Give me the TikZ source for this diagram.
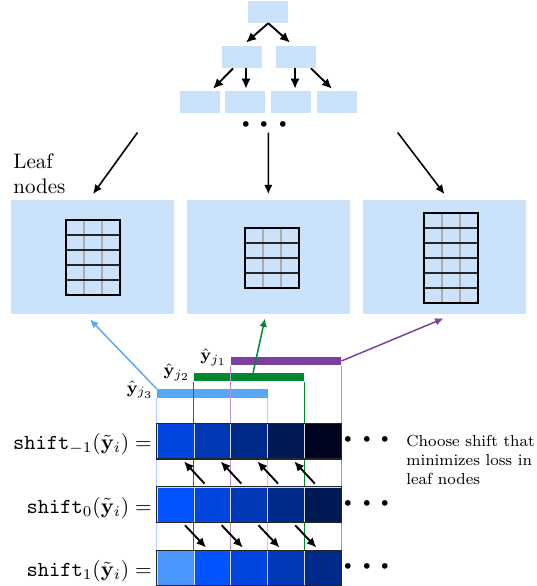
\documentclass[tikz,border=0pt]{standalone}
\usepackage{graphicx}
\usepackage{amsmath,amssymb}
\usetikzlibrary{arrows.meta,calc}
\newdimen\pxu \pxu=0.47619pt
\definecolor{leafblue}{RGB}{202,227,250}
\definecolor{shA}{HTML}{4A96FF}
\definecolor{shB}{HTML}{0055FF}
\definecolor{shC}{HTML}{0046DF}
\definecolor{shD}{HTML}{0038B5}
\definecolor{shE}{HTML}{002A8A}
\definecolor{shF}{HTML}{001A56}
\definecolor{shG}{HTML}{00051F}
\definecolor{jblue}{HTML}{57A9F8}
\definecolor{jgreen}{HTML}{00882E}
\definecolor{jpurple}{HTML}{7B3F9D}
\newcommand{\shiftlabel}[1]{\scalebox{1.02}{$\mathtt{shift}_{#1}(\tilde{\mathbf{y}}_i) =$}}
\tikzset{
  treebox/.style={fill=leafblue, inner sep=0, minimum width=40\pxu, minimum height=22\pxu},
  leafbox/.style={fill=leafblue, inner sep=0, minimum width=163\pxu, minimum height=114\pxu},
  tarrow/.style={line width=0.9pt, -{Latex[length=4.8pt,width=4.4pt]}},
  barrow/.style={line width=0.75pt, -{Latex[length=4.4pt,width=4pt]}},
  sarrow/.style={line width=0.9pt, -{Latex[length=4.6pt,width=4.2pt]}},
  carrow/.style={line width=0.7pt, -{Latex[length=4pt,width=3.6pt]}},
  gridv/.style={draw=gray!65, line width=0.5pt},
  gridh/.style={draw=black!85, line width=0.5pt},
  gridb/.style={draw=black, line width=0.7pt},
  cell/.style={inner sep=0, minimum width=36.75\pxu, minimum height=35\pxu, draw=gray!30, line width=0.45pt},
  rowframe/.style={draw=black!85, line width=0.5pt},
  jbar/.style={inner sep=0, minimum width=110.25\pxu, minimum height=8.3\pxu},
  jlbl/.style={font=\footnotesize, inner sep=0, anchor=east},
  vline/.style={line width=0.5pt},
  shiftlbl/.style={inner sep=0, anchor=base east},
  dotsnode/.style={inner sep=0, font=\LARGE\boldmath},
}
\begin{document}
\begin{tikzpicture}[x=0.47619pt, y=-0.47619pt]
\useasboundingbox (0,0) rectangle (537,586);
% tree
\node[treebox] (root) at (268.3,11.8) {};
\node[treebox] (m1) at (242,57) {};
\node[treebox] (m2) at (296,57) {};
\node[treebox] (b1) at (200,101.7) {};
\node[treebox] (b2) at (245,101.7) {};
\node[treebox] (b3) at (291,101.7) {};
\node[treebox] (b4) at (337,101.7) {};
\draw[tarrow] (root.south) -- ($(m1.north)+(4,-3)$);
\draw[tarrow] (root.south) -- ($(m2.north)+(-6,-3)$);
\draw[tarrow] ($(m1.south)+(-9,0)$) -- ($(b1.north)+(13,-1.5)$);
\draw[tarrow] ($(m1.south)+(4,0)$) -- ($(b2.north)+(1,-1.5)$);
\draw[tarrow] ($(m2.south)+(-1,0)$) -- ($(b3.north)+(4,-1.5)$);
\draw[tarrow] ($(m2.south)+(15,0)$) -- ($(b4.north)+(-5,-1.5)$);
\node[dotsnode] (tdots) at (268.3,125) {$\cdots$};
% leaf boxes
\node[leafbox] (leafA) at (92.5,257) {};
\node[leafbox] (leafB) at (268.5,257) {};
\node[leafbox] (leafC) at (444.5,257) {};
\node[anchor=north west, align=left, inner sep=0] (leaftxt) at (13,153.4) {Leaf\\nodes};
\coordinate (sA) at (137.5,132.5);
\coordinate (sB) at (268.3,132.5);
\coordinate (sC) at (397.7,132.5);
\draw[barrow] (sA) -- ($(leafA.north)+(0.5,-5.5)$);
\draw[barrow] (sB) -- ($(leafB.north)+(-0.2,-5.5)$);
\draw[barrow] (sC) -- ($(leafC.north)+(0,-5.5)$);
% grids
\foreach \k in {1,2} \draw[gridv] (66+18*\k,220) -- (66+18*\k,295);
\foreach \k in {1,...,4} \draw[gridh] (66,220+15*\k) -- (120,220+15*\k);
\draw[gridb] (66,220) rectangle (120,295);
\foreach \k in {1,2} \draw[gridv] (245+18*\k,228) -- (245+18*\k,288);
\foreach \k in {1,2,3} \draw[gridh] (245,228+15*\k) -- (299,228+15*\k);
\draw[gridb] (245,228) rectangle (299,288);
\foreach \k in {1,2} \draw[gridv] (424+18*\k,213) -- (424+18*\k,303);
\foreach \k in {1,...,5} \draw[gridh] (424,213+15*\k) -- (478,213+15*\k);
\draw[gridb] (424,213) rectangle (478,303);
% bracket bars
\node[jbar, fill=jpurple] (bj1) at (285.9,361) {};
\node[jbar, fill=jgreen] (bj2) at (249.1,377.3) {};
\node[jbar, fill=jblue] (bj3) at (212.4,393.6) {};
\node[jlbl] (lj1) at ($(bj1.west)+(-3,-4)$) {$\hat{\mathbf{y}}_{j_1}$};
\node[jlbl] (lj2) at ($(bj2.west)+(-3,-5)$) {$\hat{\mathbf{y}}_{j_2}$};
\node[jlbl] (lj3) at ($(bj3.west)+(-3,-4)$) {$\hat{\mathbf{y}}_{j_3}$};
% vertical guide lines
\coordinate (rowtop) at (0,550.5);
\draw[vline, draw=jblue!50!white] (bj3.south west) -- (bj3.south west |- rowtop);
\draw[vline, draw=jblue!50!white] (bj3.south east) -- (bj3.south east |- rowtop);
\draw[vline, draw=jgreen] (bj2.south west) -- (bj2.south west |- rowtop);
\draw[vline, draw=jgreen] (bj2.south east) -- (bj2.south east |- rowtop);
\draw[vline, draw=jpurple!55!white] (bj1.south west) -- (bj1.south west |- rowtop);
\draw[vline, draw=jpurple!55!white] (bj1.south east) -- (bj1.south east |- rowtop);
% rows of cells
\foreach \r/\cols in {1/{shC,shD,shE,shF,shG},2/{shB,shC,shD,shE,shF},3/{shA,shB,shC,shD,shE}} {
  \foreach \c [count=\k] in \cols {
    \node[cell, fill=\c] (r\r-\k) at (157.25+36.75*\k-18.375, 441+63.5*\r-63.5) {};
  }
  \draw[rowframe] (r\r-1.north west) rectangle (r\r-5.south east);
}
% colored arrows to leaves
\draw[carrow, draw=jblue] (bj3.north west) -- ($(leafA.south)+(-2.5,5)$);
\draw[carrow, draw=jgreen] ($(bj2.north)+(4,0)$) -- ($(leafB.south)+(-3.5,4)$);
\draw[carrow, draw=jpurple] (bj1.east) -- ($(leafC.south)+(-1,4)$);
% shift labels
\node[shiftlbl] (s1) at ($(r1-1.west)+(-4.5,8.5)$) {\shiftlabel{-1}};
\node[shiftlbl] (s2) at ($(r2-1.west)+(-4.5,8.5)$) {\shiftlabel{0}};
\node[shiftlbl] (s3) at ($(r3-1.west)+(-4.5,8.5)$) {\shiftlabel{1}};
% dots after rows
\node[dotsnode, anchor=west] (d1) at ($(r1-5.east)+(1,-1)$) {$\cdots$};
\node[dotsnode, anchor=west] (d2) at ($(r2-5.east)+(1,-1)$) {$\cdots$};
\node[dotsnode, anchor=west] (d3) at ($(r3-5.east)+(1,-1)$) {$\cdots$};
% shift arrows
\foreach \k [evaluate=\k as \n using int(\k+1)] in {1,...,4} {
  \draw[sarrow] ($(r2-\n.north west)+(11,-3)$) -- ($(r1-\k.south east)+(-10.5,2.5)$);
  \draw[sarrow] ($(r2-\k.south east)+(-9.5,2.8)$) -- ($(r3-\n.north west)+(12.5,-2.5)$);
}
% note
\node[anchor=north west, inner sep=0, font=\footnotesize] (note) at (406,433.2) {\scalebox{0.95}{\begin{tabular}{@{}l@{}}Choose shift that\\minimizes loss in\\leaf nodes\end{tabular}}};
\end{tikzpicture}
\end{document}
